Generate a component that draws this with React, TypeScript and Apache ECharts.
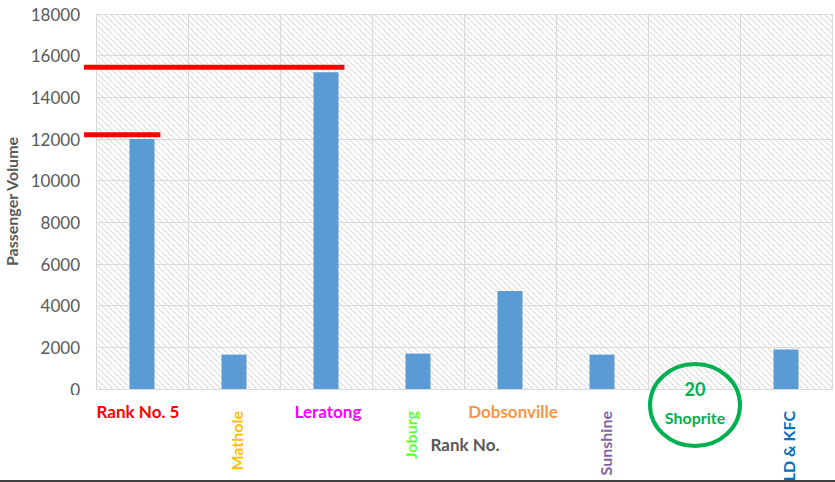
import React, { useEffect, useRef } from "react";
import * as echarts from "echarts";

// ---- data ----
const categories = ["Rank No. 5", "Mathole", "Leratong", "Joburg", "Dobsonville", "Sunshine", "Shoprite", "LD & KFC"];
const passengerVolume = [12000, 1650, 15200, 1700, 4700, 1650, 0, 1900];
const rankBadges = ["", "", "", "", "", "", "20", ""];
const yMin = 0;
const yMax = 18000;
const yStep = 2000;
// reference (highlight) lines: [start position, level, end position] in category units
const referenceLevels = [12200, 15450];
const referenceStarts = [-0.13, -0.13];
const referenceEnds = [0.7, 2.7];

// ---- label styles ----
const labelColors = ["#FF0000", "#FFC000", "#FF00FF", "#66FF33", "#F79646", "#8064A2", "#00B050", "#0070C0"];
const labelVertical = [false, true, false, true, false, true, false, true];
const labelDx = [-4, 2, 2, -8, 3, 3, 1, 2];

const FONT = "Lato, 'Noto Sans', sans-serif";
const GREY = "#595959";

const hatch =
  "data:image/svg+xml;utf8," +
  encodeURIComponent(
    "<svg xmlns='http://www.w3.org/2000/svg' width='6' height='6'><rect width='6' height='6' fill='white'/><path d='M0,0 L6,6 M-1,5 L1,7 M5,-1 L7,1' stroke='#cdcdcd' stroke-width='1.1' stroke-dasharray='1.4,0.8'/></svg>"
  );

export default function App() {
  const ref = useRef<HTMLDivElement>(null);

  useEffect(() => {
    document.body.style.margin = "0";
    if (!ref.current) return;
    const chart = echarts.init(ref.current, undefined, { renderer: "svg" });

    const option: any = {
      animation: false,
      grid: {
        left: 96,
        right: 3,
        top: 14,
        bottom: 93,
        outerBoundsMode: "none",
        containLabel: false,
        show: true,
        borderWidth: 0,
        backgroundColor: { image: hatch, repeat: "repeat" },
      },
      xAxis: [
        {
          type: "category",
          data: categories,
          axisLabel: { show: false },
          axisTick: { show: false },
          axisLine: { show: true, lineStyle: { color: "#d9d9d9", width: 1 } },
          splitLine: { show: true, interval: 0, lineStyle: { color: "#d9d9d9", width: 1 } },
        },
        { type: "value", min: 0, max: categories.length, show: false },
      ],
      yAxis: {
        type: "value",
        min: yMin,
        max: yMax,
        interval: yStep,
        name: "Passenger Volume",
        nameLocation: "middle",
        nameGap: 72,
        nameTextStyle: { color: GREY, fontFamily: FONT, fontWeight: "bold", fontSize: 16 },
        axisLine: { show: false },
        axisTick: { show: false },
        axisLabel: { color: GREY, fontFamily: FONT, fontSize: 17, margin: 16, formatter: (v: number) => String(v) },
        splitLine: { show: true, lineStyle: { color: "#d9d9d9", width: 1 } },
      },
      graphic: [
        { type: "line", z: 1, shape: { x1: 0, y1: 481, x2: 835, y2: 481 }, style: { stroke: "#404040", lineWidth: 2 } },
        { type: "rect", z: 3, shape: { x: 50, y: 395, width: 46, height: 12 }, style: { fill: "#fff" } },
        { type: "rect", z: 3, shape: { x: 96, y: 390, width: 104, height: 10 }, style: { fill: "#fff" } },
        {
          type: "text",
          z: 6,
          x: 465,
          y: 444,
          style: { text: "Rank No.", fill: GREY, font: `bold 17px ${FONT}`, align: "center", verticalAlign: "middle" },
        },
      ],
      series: [
        {
          type: "bar",
          data: passengerVolume,
          barWidth: 25,
          itemStyle: { color: "#5B9BD5" },
          z: 2,
        },
        {
          type: "custom",
          xAxisIndex: 1,
          yAxisIndex: 0,
          z: 4,
          silent: true,
          clip: false,
          data: referenceLevels.map((lv, k) => [referenceStarts[k], lv, referenceEnds[k]]),
          encode: { x: [0, 2], y: 1 },
          renderItem: (params: any, api: any) => {
            const a = api.coord([api.value(0), api.value(1)]);
            const b = api.coord([api.value(2), api.value(1)]);
            return {
              type: "line",
              shape: { x1: a[0], y1: a[1], x2: b[0], y2: b[1] },
              style: { stroke: "#FF0000", lineWidth: 5, lineCap: "butt" },
            };
          },
        },
        {
          type: "custom",
          z: 5,
          silent: true,
          clip: false,
          data: categories.map((_, i) => [i, 0]),
          encode: { x: 0, y: 1 },
          renderItem: (params: any, api: any) => {
            const i = params.dataIndex;
            const p = api.coord([api.value(0), 0]);
            const x = p[0] + labelDx[i];
            const y0 = p[1];
            const fill = labelColors[i];
            const font = `bold 17px ${FONT}`;
            const children: any[] = [];
            if (labelVertical[i]) {
              children.push({
                type: "rect",
                shape: { x: x - 21, y: y0 + 1, width: 42, height: 90 },
                style: { fill: "#fff" },
              });
              children.push({
                type: "text",
                x,
                y: y0 + 22,
                rotation: Math.PI / 2,
                style: { text: categories[i], fill, font: `bold 16px ${FONT}`, align: "right", verticalAlign: "middle" },
              });
            } else if (rankBadges[i]) {
              children.push({
                type: "ellipse",
                shape: { cx: x, cy: y0 + 16, rx: 45, ry: 41 },
                style: { fill: "none", stroke: fill, lineWidth: 4 },
              });
              children.push({
                type: "text",
                x,
                y: y0 + 0,
                style: { text: rankBadges[i], fill, font: `bold 18px ${FONT}`, align: "center", verticalAlign: "middle" },
              });
              children.push({
                type: "text",
                x,
                y: y0 + 28,
                style: { text: categories[i], fill, font: `bold 16px ${FONT}`, align: "center", verticalAlign: "middle" },
              });
            } else {
              children.push({
                type: "text",
                x,
                y: y0 + 22,
                style: { text: categories[i], fill, font, align: "center", verticalAlign: "middle" },
              });
            }
            return { type: "group", children };
          },
        },
      ],
    };

    chart.setOption(option);
    return () => chart.dispose();
  }, []);

  return <div ref={ref} style={{ width: 835, height: 482 }} />;
}
